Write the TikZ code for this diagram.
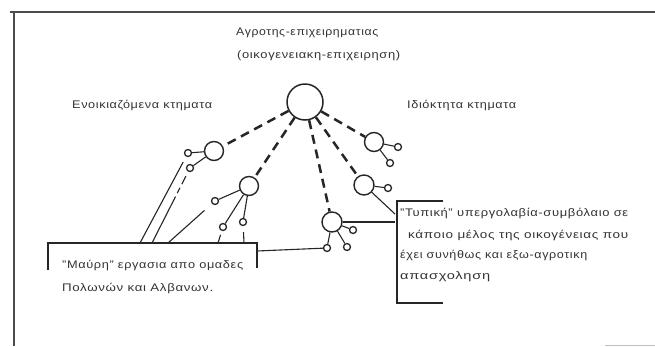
\documentclass[tikz,border=0pt]{standalone}
\usepackage{fontspec}
\usepackage{graphicx}
\setmainfont{Liberation Sans}[LetterSpace=5]
\usetikzlibrary{calc}
\newcommand{\fitw}[2]{\resizebox{#1}{\height}{#2}}
\begin{document}
\begin{tikzpicture}[x=1pt,y=-1pt,
  ink/.style={draw=black!85, line width=1.1pt},
  bigc/.style={circle, draw=black!85, line width=1.5pt, minimum size=36pt, inner sep=0pt},
  midc/.style={circle, draw=black!85, line width=1.4pt, minimum size=19pt, inner sep=0pt},
  smallc/.style={circle, draw=black!85, line width=1.3pt, minimum size=7pt, inner sep=0pt},
  thickdash/.style={draw=black!85, line width=2.5pt, dash pattern=on 9pt off 6pt},
  lbl/.style={font=\fontsize{11}{13}\selectfont, text=black!80, inner sep=0pt, anchor=west},
  frame/.style={draw=black!70, line width=1.3pt}]
\useasboundingbox (0,0) rectangle (655,346);
\fill[white] (0,0) rectangle (655,346);
% frame
\draw[frame] (10,12) -- (655,12);
\draw[frame] (14,12) -- (14,346);
\draw[draw=black!25, line width=1pt] (605,345) -- (655,345);
% titles
\node[lbl] (t1) at (236,33) {\fitw{142pt}{Αγροτης-επιχειρηματιας}};
\node[lbl] (t2) at (237,56) {\fitw{163pt}{(οικογενειακη-επιχειρηση)}};
\node[lbl] (lft) at (72,105) {\fitw{140pt}{Ενοικιαζόμενα κτηματα}};
\node[lbl] (rgt) at (407,105) {\fitw{109pt}{Ιδιόκτητα κτηματα}};
% circles
\node[bigc] (M) at (305,102) {};
\node[midc] (A) at (214,151) {};
\node[smallc] (A1) at (188,153) {};
\node[smallc] (A2) at (190,168) {};
\node[midc] (B) at (249,186) {};
\node[smallc] (B1) at (215,201) {};
\node[smallc] (B2) at (223,227) {};
\node[smallc] (B3) at (243,222) {};
\node[midc, minimum size=20pt] (C) at (332,222) {};
\node[smallc] (C1) at (353,230) {};
\node[smallc] (C2) at (347,247) {};
\node[smallc] (C3) at (327,248) {};
\node[midc] (D) at (374,142) {};
\node[smallc] (D1) at (398,147) {};
\node[smallc] (D2) at (390,163) {};
\node[midc, minimum size=20pt] (E) at (364,185) {};
\node[smallc] (E1) at (388,188) {};
% dashed links
\draw[thickdash] (M) -- (A);
\draw[thickdash] (M) -- (B);
\draw[thickdash] (M) -- (C);
\draw[thickdash] (M) -- (E);
\draw[thickdash] (M) -- (D);
% solid links
\draw[ink] (A) -- (A1);
\draw[ink] (A) -- (A2);
\draw[ink] (B) -- (B1);
\draw[ink] (B) -- (B2);
\draw[ink] (B) -- (B3);
\draw[ink] (C) -- (C1);
\draw[ink] (C) -- (C2);
\draw[ink] (C) -- (C3);
\draw[ink] (D) -- (D1);
\draw[ink] (D) -- (D2);
\draw[ink] (E) -- (E1);
% box 1
\coordinate (b1tl) at (48,243);
\coordinate (b1tr) at (257,243);
\coordinate (b1bl) at (48,270);
\coordinate (b1br) at (257,268);
\draw[ink] (b1bl) -- (b1tl) -- (b1tr) -- (b1br);
\node[lbl] (x1) at (62,265) {\fitw{181pt}{"Μαύρη" εργασια απο ομαδες}};
\node[lbl] (x2) at (62,288) {\fitw{151pt}{Πολωνών και Αλβανων.}};
\coordinate (p1) at (140,243);
\coordinate (p2) at (152,243);
\coordinate (p3) at (168,243);
\coordinate (p4) at (218,243);
\coordinate (p5) at (244,243);
\coordinate (b1r) at (257,251);
\draw[ink] (p1) -- (A1) [shorten >=6pt];
\draw[ink, dash pattern=on 52pt off 4pt on 6pt off 4pt] (p2) -- (A2) [shorten >=5pt];
\draw[ink] (p3) -- (B1) [shorten >=10pt];
\draw[ink] (p4) -- (B2) [shorten >=4pt];
\draw[ink] (p5) -- (B3) [shorten >=6pt];
\draw[ink] (b1r) -- (C3);
% box 2
\coordinate (b2t) at (443,201);
\coordinate (b2tl) at (397,201);
\coordinate (b2bl) at (397,303);
\coordinate (b2b) at (443,303);
\draw[ink] (b2t) -- (b2tl) -- (b2bl) -- (b2b);
\coordinate (b2e) at (395,214);
\coordinate (b2c) at (395,222);
\draw[ink] (E) -- (b2e);
\draw[ink] (C) -- (b2c);
\node[lbl] (y1) at (400,213) {\fitw{228pt}{"Τυπική" υπεργολαβία-συμβόλαιο σε}};
\node[lbl] (y2) at (408,235) {\fitw{220pt}{κάποιο μέλος της οικογένειας που}};
\node[lbl] (y3) at (400,255) {\fitw{187pt}{έχει συνήθως και εξω-αγροτικη}};
\node[lbl] (y4) at (400,277) {\fitw{90pt}{απασχοληση}};
\end{tikzpicture}
\end{document}
